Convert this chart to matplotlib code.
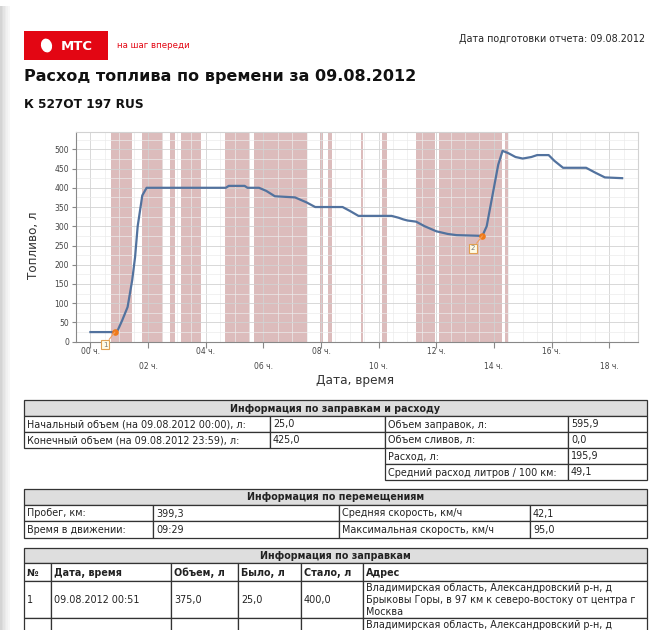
import matplotlib.pyplot as plt
from matplotlib.patches import Rectangle, Ellipse

W, H = 659, 630

# fuel level during the day (hours from 00:00, litres)
hours = [0, 0.85, 0.95, 1.1, 1.29, 1.45, 1.55, 1.64, 1.72, 1.8, 1.95,
         4.7, 4.8, 5.35, 5.45, 5.85, 6.1, 6.4, 7.1, 7.5, 7.8, 8.75, 9.0, 9.3,
         10.45, 10.7, 10.85, 11.0, 11.3, 11.6, 12.0, 12.4, 12.7, 13.6,
         13.75, 13.95, 14.15, 14.3, 14.5, 14.75, 15.0, 15.3, 15.5, 15.9,
         16.1, 16.4, 17.2, 17.5, 17.85, 18.45]
fuel = [25, 25, 30, 55, 90, 160, 220, 300, 340, 380, 400,
        400, 405, 405, 400, 400, 392, 378, 375, 362, 350, 350, 340, 327,
        327, 322, 318, 315, 312, 300, 287, 280, 277, 275,
        300, 380, 460, 496, 490, 480, 476, 480, 485, 485,
        470, 452, 452, 440, 427, 425]

# intervals in motion (shaded)
moving = [(0.72, 1.44), (1.79, 2.52), (2.75, 2.95), (3.15, 3.84), (4.66, 5.55),
          (5.66, 7.51), (7.97, 8.07), (8.23, 8.38), (9.38, 9.47), (10.11, 10.3),
          (11.3, 11.96), (12.11, 14.29), (14.38, 14.5)]

# refuel points
refuel_t = [0.85, 13.6]
refuel_v = [25, 275]
refuel_lbl = ["1", "2"]

tick_hours = [0, 2, 4, 6, 8, 10, 12, 14, 16, 18]
tick_lbl = ["00 ч.", "02 ч.", "04 ч.", "06 ч.", "08 ч.", "10 ч.", "12 ч.",
            "14 ч.", "16 ч.", "18 ч."]

# tables
t1_title = "Информация по заправкам и расходу"
t1_rows = [["Начальный объем (на 09.08.2012 00:00), л:", "25,0", "Объем заправок, л:", "595,9"],
           ["Конечный объем (на 09.08.2012 23:59), л:", "425,0", "Объем сливов, л:", "0,0"],
           [None, None, "Расход, л:", "195,9"],
           [None, None, "Средний расход литров / 100 км:", "49,1"]]

t2_title = "Информация по перемещениям"
t2_rows = [["Пробег, км:", "399,3", "Средняя скорость, км/ч", "42,1"],
           ["Время в движении:", "09:29", "Максимальная скорость, км/ч", "95,0"]]

t3_title = "Информация по заправкам"
t3_head = ["№", "Дата, время", "Объем, л", "Было, л", "Стало, л", "Адрес"]
t3_rows = [["1", "09.08.2012 00:51", "375,0", "25,0", "400,0",
            "Владимирская область, Александровский р-н, д\nБрыковы Горы, в 97 км к северо-востоку от центра г\nМосква"],
           ["", "", "", "", "", "Владимирская область, Александровский р-н, д"]]

plt.rcParams['font.family'] = ['DejaVu Sans']
FS = 6.9

fig = plt.figure(figsize=(W / 100, H / 100), dpi=100)
page = fig.add_axes([0, 0, 1, 1])
page.set_xlim(0, W)
page.set_ylim(H, 0)
page.axis('off')

# page shadow on the left
for i, c in enumerate(['#d4d4d4', '#dcdcdc', '#e4e4e4', '#ebebeb', '#f1f1f1', '#f7f7f7']):
    page.add_patch(Rectangle((i * 1.6, 6), 1.6, H, color=c, lw=0))

# logo
red = '#e30613'
page.add_patch(Rectangle((24, 31), 84, 29, color=red, lw=0))
page.add_patch(Ellipse((46.5, 45.5), 11, 14, angle=-15, color='white', lw=0))
page.text(61, 46, "МТС", color='white', fontsize=9.5, fontweight='bold', va='center')
page.text(117, 45, "на шаг впереди", color=red, fontsize=6.2, va='center')
page.text(645, 39, "Дата подготовки отчета: 09.08.2012", fontsize=FS, ha='right',
          va='center', color='#222')
page.text(24, 76, "Расход топлива по времени за 09.08.2012", fontsize=11.5,
          fontweight='bold', va='center', color='#111')
page.text(24, 105, "К 527ОТ 197 RUS", fontsize=8.7, fontweight='bold', va='center',
          color='#111')


def cell(x0, y0, x1, y1, text='', bold=False, fill='white', ha='left', ty=None):
    page.add_patch(Rectangle((x0, y0), x1 - x0, y1 - y0, facecolor=fill,
                             edgecolor='#333', lw=0.9))
    if text:
        tx = x0 + 3 if ha == 'left' else (x0 + x1) / 2
        if ty is None:
            ty = (y0 + y1) / 2 + 0.5
        page.text(tx, ty, text, ha=ha, va='center', fontsize=FS,
                  fontweight='bold' if bold else 'normal', color='#222',
                  linespacing=1.3)


def table(xs, ys, title, rows, head=None):
    cell(xs[0], ys[0], xs[-1], ys[1], title, bold=True, fill='#dedede', ha='center')
    r0 = 1
    if head:
        for j, h in enumerate(head):
            cell(xs[j], ys[1], xs[j + 1], ys[2], h, bold=True)
        r0 = 2
    for i, row in enumerate(rows):
        y0, y1 = ys[r0 + i], ys[r0 + i + 1]
        ty = y0 + 6.5 if y1 > H else None
        for j, v in enumerate(row):
            if v is None:
                continue
            cell(xs[j], y0, xs[j + 1], y1, v, ty=ty)


table([24, 270, 385, 568, 647], [400, 416, 432, 448, 464, 480], t1_title, t1_rows)
table([24, 153, 339, 530, 647], [489, 505, 521, 538], t2_title, t2_rows)
table([24, 51, 171, 238, 301, 363, 647], [548, 563, 581, 618, 660], t3_title, t3_rows, t3_head)

# chart
l, t, r, b = 76, 132, 638, 341.7
ax = fig.add_axes([l / W, 1 - b / H, (r - l) / W, (b - t) / H])
ax.set_xlim(-0.5, 19.0)
ax.set_ylim(0, 545)

for a, e in moving:
    ax.axvspan(a, e, color='#dcbcbc', lw=0, zorder=0.2)

ax.plot(hours, fuel, color='#52729e', lw=1.6, zorder=3)
ax.scatter(refuel_t, refuel_v, color='#f07a1a', s=14, zorder=4)
for x, y, s in zip(refuel_t, refuel_v, refuel_lbl):
    ax.annotate(s, xy=(x, y), xytext=(-7, -9), textcoords='offset points',
                fontsize=5, color='#777', ha='center', va='center',
                annotation_clip=False, zorder=5,
                bbox=dict(boxstyle='square,pad=0.25', fc='#fffbe6', ec='#e0a050', lw=0.8),
                arrowprops=dict(arrowstyle='-', color='#f0a060', lw=0.8,
                                shrinkA=0, shrinkB=0))

ax.set_yticks(range(0, 501, 50))
ax.set_yticks(range(25, 546, 25), minor=True)
ax.set_xticks(tick_hours, labels=[])
ax.set_xticks([h / 2 for h in range(-1, 38)], minor=True)
ax.set_axisbelow(True)
ax.grid(which='major', color='#d2d2d2', lw=0.6)
ax.grid(which='minor', color='#ebebeb', lw=0.5)
ax.tick_params(axis='y', labelsize=5.5, labelcolor='#444', length=3, color='#888', pad=2)
ax.tick_params(axis='x', length=4, color='#888')
ax.tick_params(which='minor', length=0)
for h, s in zip(tick_hours, tick_lbl):
    row = 0 if (h // 2) % 2 == 0 else 1
    ax.text(h, -0.049 - row * 0.067, s, transform=ax.get_xaxis_transform(),
            ha='center', va='center', fontsize=5.5, color='#444')

for side in ['top', 'right']:
    ax.spines[side].set_color('#d2d2d2')
for side in ['left', 'bottom']:
    ax.spines[side].set_color('#888')

ax.text((33 - l) / (r - l), (b - 245) / (b - t), "Топливо, л", rotation=90,
        transform=ax.transAxes, ha='center', va='center', fontsize=8.6, color='#333')
ax.text((355 - l) / (r - l), (b - 380) / (b - t), "Дата, время",
        transform=ax.transAxes, ha='center', va='center', fontsize=8.7, color='#333')

fig.savefig('out.png', dpi=100)
